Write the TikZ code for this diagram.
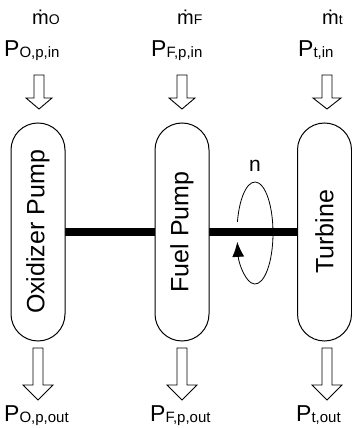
\documentclass[tikz,border=0pt]{standalone}
\usepackage{fontspec}
\setmainfont{Liberation Sans}
\usetikzlibrary{arrows.meta,calc}
\newcommand{\blockarr}[5]{%
  \draw[blockarrow] (#1-5,#2) -- (#1-5,#3) -- (#1-#5,#3) -- (#1,#4) -- (#1+#5,#3) -- (#1+5,#3) -- (#1+5,#2) -- cycle;}
\newcommand{\bigP}[1]{{\fontsize{23}{23}\selectfont P}{\fontsize{15}{15}\selectfont\raisebox{-1pt}{#1}}}
\newcommand{\mflow}[1]{{\fontsize{20}{20}\selectfont \.{m}}{\fontsize{14}{14}\selectfont #1}}
\begin{document}
\begin{tikzpicture}[x=1pt,y=1pt,
  unit/.style={draw, line width=1pt, fill=white, rounded corners=27pt,
    minimum width=218pt, minimum height=54pt, rotate=90, inner sep=0pt,
    font=\fontsize{25}{25}\selectfont},
  blockarrow/.style={draw, line width=0.9pt, fill=white, line join=miter},
  lbl/.style={anchor=base west, inner sep=0pt}]
\useasboundingbox (0,0) rectangle (352,428);
% shaft
\coordinate (shl) at (38,196);
\coordinate (shr) at (325,196);
\draw[line width=7.5pt] (shl) -- (shr);
% units
\node[unit] (ox) at (38,196) {Oxidizer Pump};
\node[unit] (fp) at (182,196) {Fuel Pump};
\node[unit] (tb) at (324.5,196) {Turbine};
% rotation
\coordinate (ec) at (255,195);
\draw[line width=0.8pt, -{Latex[length=15pt,width=12pt]}]
  ($(ec)+({18*cos(167.5)},{51*sin(167.5)})$) arc[start angle=167.5, end angle=-170, x radius=18, y radius=51];
\node[inner sep=0pt, font=\fontsize{21}{21}\selectfont] (n) at (255,262) {n};
% top labels
\node[lbl] (mo) at (32,403) {\mflow{O}};
\node[lbl] (mf) at (177,403) {\mflow{F}};
\node[lbl] (mt) at (322,403) {\mflow{t}};
\node[lbl] (po) at (4,371) {\bigP{O,p,in}};
\node[lbl] (pf) at (151,371) {\bigP{F,p,in}};
\node[lbl] (pt) at (298,371) {\bigP{t,in}};
% top arrows
\blockarr{39}{353}{330}{319}{13}
\blockarr{182}{353}{330}{319}{13}
\blockarr{327}{353}{330}{319}{14}
% bottom arrows
\blockarr{38}{80}{43}{28}{15}
\blockarr{182}{80}{43}{28}{15}
\blockarr{327}{80}{43}{28}{15}
% bottom labels
\node[lbl] (poo) at (4,6) {\bigP{O,p,out}};
\node[lbl] (pfo) at (150,6) {\bigP{F,p,out}};
\node[lbl] (pto) at (296,6) {\bigP{t,out}};
\end{tikzpicture}
\end{document}
